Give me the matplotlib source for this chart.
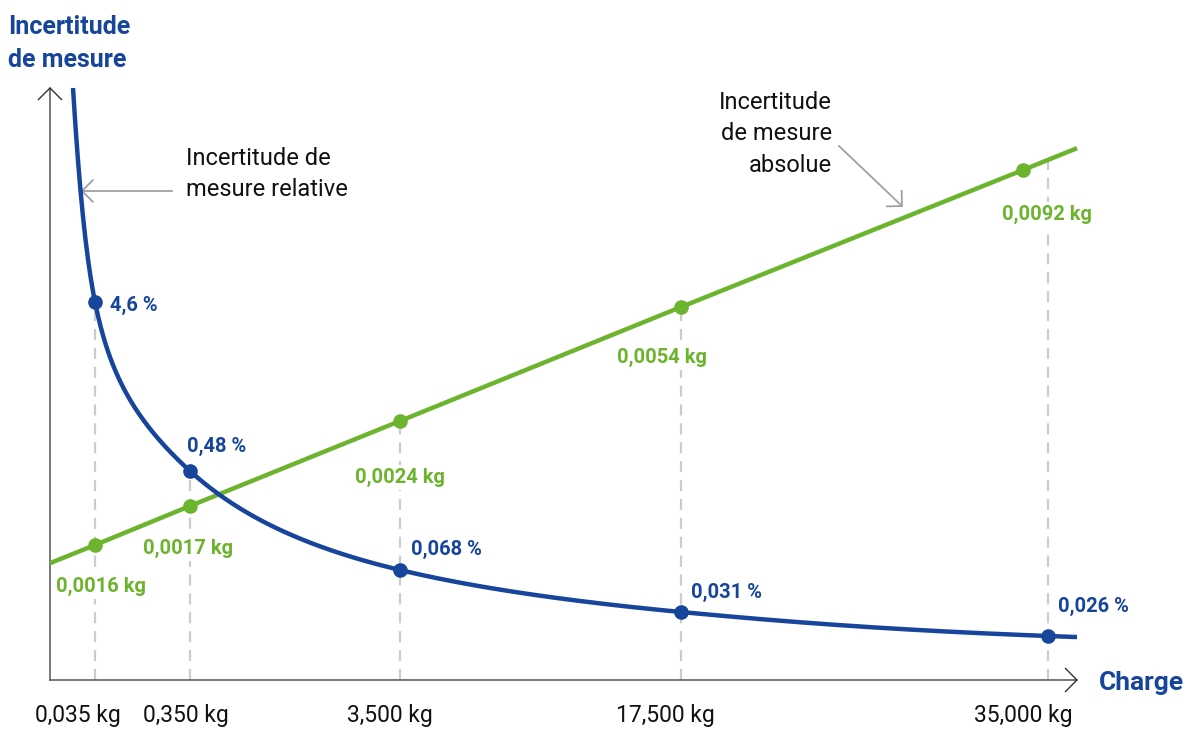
import numpy as np
import matplotlib
matplotlib.use("Agg")
import matplotlib.pyplot as plt

plt.rcParams["font.family"] = ["Roboto", "DejaVu Sans"]

BLUE = "#17459b"
GREEN = "#6cb32e"
GREY = "#a0a0a0"
DASH = "#cccccc"

# values printed on the chart
load_labels = ["0,035 kg", "0,350 kg", "3,500 kg", "17,500 kg", "35,000 kg"]
rel_labels = ["4,6 %", "0,48 %", "0,068 %", "0,031 %", "0,026 %"]
abs_labels = ["0,0016 kg", "0,0017 kg", "0,0024 kg", "0,0054 kg", "0,0092 kg"]

# the chart is a sketch without a real scale: schematic layout in pixels
load_x = [95, 190, 400, 681, 1048]
tick_x = [78, 186, 390, 665, 1023]
rel_y = [302, 471, 570, 612, 636]
abs_x = [95, 190, 400, 681, 1023]
abs_y = [545, 506, 421, 307, 170]

X0, Y0 = 50, 680          # origin of the sketch axes
X_END, Y_TOP = 1077, 88


def pchip(xk, yk, xs):
    # monotone cubic through the points (Fritsch-Carlson)
    xk = np.asarray(xk, float)
    yk = np.asarray(yk, float)
    h = np.diff(xk)
    d = np.diff(yk) / h
    m = np.zeros_like(yk)
    for i in range(1, len(xk) - 1):
        if d[i - 1] * d[i] > 0:
            w1 = 2 * h[i] + h[i - 1]
            w2 = h[i] + 2 * h[i - 1]
            m[i] = (w1 + w2) / (w1 / d[i - 1] + w2 / d[i])
    m[0], m[-1] = d[0], d[-1] * 0.3
    i = np.clip(np.searchsorted(xk, xs) - 1, 0, len(h) - 1)
    t = (xs - xk[i]) / h[i]
    return ((2 * t**3 - 3 * t**2 + 1) * yk[i] + (t**3 - 2 * t**2 + t) * h[i] * m[i]
            + (-2 * t**3 + 3 * t**2) * yk[i + 1] + (t**3 - t**2) * h[i] * m[i + 1])


def chevron(ax, tip, back, color, lw, size):
    back = np.asarray(back, float)
    back = back / np.hypot(*back)
    for a in (np.pi / 4, -np.pi / 4):
        r = np.array([[np.cos(a), -np.sin(a)], [np.sin(a), np.cos(a)]]) @ back
        ax.plot([tip[0], tip[0] + size * r[0]], [tip[1], tip[1] + size * r[1]],
                color=color, lw=lw, solid_capstyle="butt")


fig = plt.figure(figsize=(11.97, 7.29), dpi=100)
ax = fig.add_axes([0, 0, 1, 1])
ax.set_xlim(0, 1197)
ax.set_ylim(729, 0)
ax.axis("off")

# axes with open arrow heads
ax.plot([X0, X0], [Y0, Y_TOP], color="#555555", lw=1.1)
ax.plot([X0, X_END], [Y0, Y0], color="#555555", lw=1.1)
chevron(ax, (X0, Y_TOP), (0, 1), "#333333", 1.0, 17)
chevron(ax, (X_END, Y0), (-1, 0), "#333333", 1.0, 17)

# absolute uncertainty: straight line through the points
line_x = [X0] + abs_x + [X_END]
slope = (abs_y[-1] - abs_y[0]) / (abs_x[-1] - abs_x[0])
line_y = [abs_y[0] + slope * (X0 - abs_x[0])] + abs_y + [abs_y[-1] + slope * (X_END - abs_x[-1])]

# relative uncertainty: smooth decreasing curve
curve_x = [73] + load_x + [X_END]
curve_y = [Y_TOP] + rel_y + [637]
u = np.log(np.array(curve_x) - 45.0)
v = np.log(Y0 - np.array(curve_y, float))
xs = np.linspace(curve_x[0], curve_x[-1], 800)
ys = Y0 - np.exp(pchip(u, v, np.log(xs - 45.0)))

# dashed guide lines
for x, ry in zip(load_x, rel_y):
    top = min(ry, np.interp(x, line_x, line_y))
    ax.plot([x, x], [Y0, top], color=DASH, lw=1.6, ls=(0, (5, 3.5)), zorder=1)

ax.plot(line_x, line_y, color=GREEN, lw=3.2, zorder=3, solid_capstyle="butt")
ax.plot(xs, ys, color=BLUE, lw=3.2, zorder=3, solid_capstyle="butt")
ax.plot(abs_x, abs_y, "o", color=GREEN, ms=9.5, zorder=4)
ax.plot(load_x, rel_y, "o", color=BLUE, ms=9.5, zorder=4)

# point labels
val_kw = dict(fontsize=14.5, weight="bold", va="baseline", zorder=2,
              bbox=dict(facecolor="white", edgecolor="none", pad=2))
rel_pos = [(110, 311), (187, 452), (411, 555), (691, 598), (1058, 612)]
abs_pos = [(101, 592), (188, 554), (400, 483), (662, 363), (1047, 220)]
for s, (x, y) in zip(rel_labels, rel_pos):
    ax.text(x, y, s, color=BLUE, ha="left", **val_kw)
for s, (x, y) in zip(abs_labels, abs_pos):
    ax.text(x, y, s, color=GREEN, ha="center", **val_kw)

# load tick labels
for s, x in zip(load_labels, tick_x):
    ax.text(x, 722, s, fontsize=16.5, color="#111111", ha="center", va="baseline")

# axis titles
for s, y in zip(["Incertitude", "de mesure"], [34, 67]):
    ax.text(8, y, s, fontsize=18, weight="bold", color=BLUE, ha="left", va="baseline")
ax.text(1099, 690, "Charge", fontsize=19, weight="bold", color=BLUE, ha="left", va="baseline")

# annotations
for s, y in zip(["Incertitude de", "mesure relative"], [165, 196]):
    ax.text(186, y, s, fontsize=17, color="#111111", ha="left", va="baseline")
ax.plot([172, 82], [191, 191], color=GREY, lw=1.3)
chevron(ax, (82, 191), (1, 0), GREY, 1.3, 16)

for s, y in zip(["Incertitude", "de mesure", "absolue"], [109, 140, 172]):
    ax.text(832, y, s, fontsize=17, color="#111111", ha="right", va="baseline")
ax.plot([839, 902], [146, 206], color=GREY, lw=1.3)
chevron(ax, (902, 206), (-63, -60), GREY, 1.3, 16)

fig.savefig("out.png", dpi=100, facecolor="white")
